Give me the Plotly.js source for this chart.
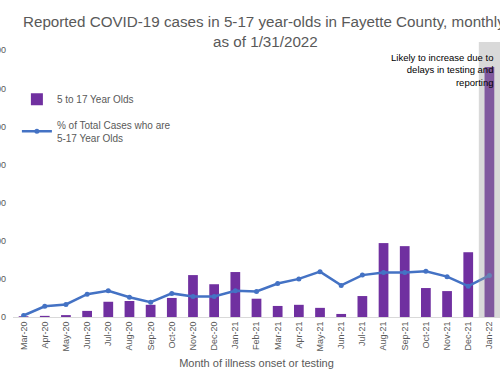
<!DOCTYPE html>
<html>
<head>
<meta charset="utf-8">
<script src="https://cdn.plot.ly/plotly-3.0.1.min.js"></script>
<style>html,body{margin:0;padding:0;background:#fff;}#chart{width:500px;height:386px;}</style>
</head>
<body>
<div id="chart"></div>
<script>
const months = ["Mar-20","Apr-20","May-20","Jun-20","Jul-20","Aug-20","Sep-20","Oct-20","Nov-20","Dec-20","Jan-21","Feb-21","Mar-21","Apr-21","May-21","Jun-21","Jul-21","Aug-21","Sep-21","Oct-21","Nov-21","Dec-21","Jan-22"];
const cases5to17 = [10,15,25,80,200,210,160,250,550,430,590,240,145,160,120,40,275,970,930,380,340,850,3280];
const pctOfTotal = [0.4,2.8,3.3,6.0,6.9,5.2,3.9,6.2,5.4,5.4,6.9,6.7,8.8,10.0,11.9,8.3,11.0,11.7,11.7,12.0,10.6,8.1,10.9];
const leftTicks = [0,500,1000,1500,2000,2500,3000,3500];
const rightTicks = [0,10,20,30,40,50,60,70];

const F = "Liberation Sans, Arial, sans-serif";
const grey = "#595959";

const traces = [
  {type:"bar", x:months, y:cases5to17, name:"5 to 17 Year Olds", legendgroup:"a",
   marker:{color:"#7030A0"}, width:0.46, yaxis:"y"},
  {type:"scatter", mode:"lines+markers", x:months, y:pctOfTotal, legendgroup:"b",
   name:"% of Total Cases who are<br>5-17 Year Olds", yaxis:"y2",
   line:{color:"#4472C4", width:2.5}, marker:{color:"#4472C4", size:5}}
];

const layout = {
  width:500, height:386,
  margin:{l:13, r:0, t:42, b:69},
  paper_bgcolor:"#fff", plot_bgcolor:"#fff",
  font:{family:F, color:grey, size:10},
  xaxis:{type:"category", tickangle:-90, showgrid:false, showline:true, linecolor:"#d9d9d9", linewidth:1,
         ticks:"", tickfont:{size:9, color:grey}, range:[-0.5,22.5],
         title:{text:"Month of illness onset or testing", font:{size:11, color:grey}, standoff:8}},
  yaxis:{range:[0,3609], tickvals:leftTicks, showgrid:false, zeroline:false, showline:false,
         ticks:"", tickfont:{size:9, color:grey}, ticklabelstandoff:6},
  yaxis2:{range:[0,72.2], tickvals:rightTicks, overlaying:"y", side:"right", showgrid:false,
          zeroline:false, showline:false, ticks:"", tickfont:{size:9, color:grey}},
  showlegend:true,
  legend:{x:0.008, y:0.845, xanchor:"left", yanchor:"top", bgcolor:"rgba(0,0,0,0)",
          font:{size:10, color:grey}, itemwidth:30, tracegroupgap:8, traceorder:"grouped"},
  bargap:0.5,
  shapes:[{type:"rect", xref:"x", yref:"paper", x0:21.5, x1:22.5, y0:0, y1:1,
           fillcolor:"rgba(155,155,155,0.38)", line:{width:0}, layer:"above"}],
  annotations:[
    {text:"Reported COVID-19 cases in 5-17 year-olds in Fayette County, monthly,<br>as of 1/31/2022",
     xref:"paper", yref:"paper", x:0.5195, y:1.114, xanchor:"center", yanchor:"top", align:"center",
     showarrow:false, font:{family:F, size:15.2, color:grey}},
    {text:"Likely to increase due to<br>delays in testing and<br>reporting", xref:"paper", yref:"paper",
     x:0.989, y:0.97, xanchor:"right", yanchor:"top", align:"right", showarrow:false,
     font:{size:9.5, color:"#000", family:F}}]
};

Plotly.newPlot("chart", traces, layout, {displayModeBar:false, staticPlot:true});
</script>
</body>
</html>
